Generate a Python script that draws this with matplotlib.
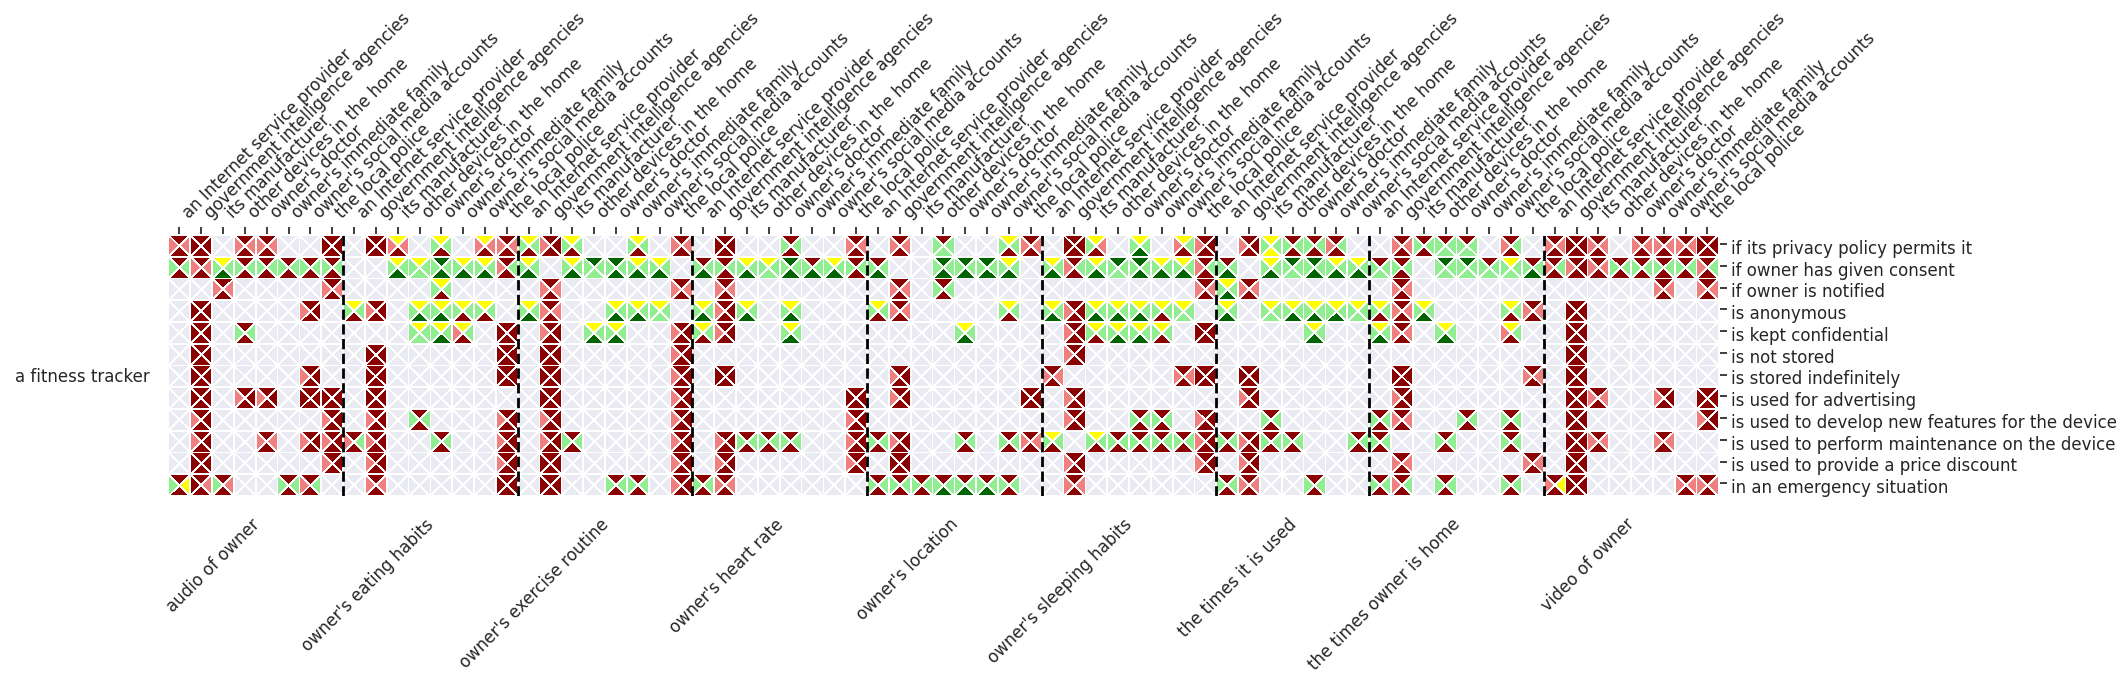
#! /usr/bin/python3

import matplotlib
matplotlib.use("Agg")
import matplotlib.pyplot as plt
from matplotlib.collections import PolyCollection
from matplotlib.transforms import ScaledTranslation

recipients = ["an Internet service provider", "government intelligence agencies",
              "its manufacturer", "other devices in the home", "owner's doctor",
              "owner's immediate family", "owner's social media accounts", "the local police"]
data_types = ["audio of owner", "owner's eating habits", "owner's exercise routine",
              "owner's heart rate", "owner's location", "owner's sleeping habits",
              "the times it is used", "the times owner is home", "video of owner"]
# the survey has no "the local police" column for "the times it is used"
missing = {"the times it is used": ["the local police"]}
conditions = ["if its privacy policy permits it", "if owner has given consent", "if owner is notified",
              "is anonymous", "is kept confidential", "is not stored", "is stored indefinitely",
              "is used for advertising", "is used to develop new features for the device",
              "is used to perform maintenance on the device", "is used to provide a price discount",
              "in an emergency situation"]
device = "a fitness tracker"

# column -> opinion in the top, right, bottom, left triangle of the cell
# D very unacceptable, L unacceptable, G acceptable, F very acceptable, Y neutral
row_policy = {0: "DLDL", 1: "DDDD", 3: "DLDL", 4: "DLDL", 7: "DDDD", 9: "DDDD", 10: "YLDL", 12: "YGDG",
              14: "YLDL", 15: "DLDL", 16: "YGDG", 17: "DDDL", 18: "YGDG", 21: "YGDG", 23: "DLDL", 25: "DDDD",
              28: "DGDG", 31: "DLDL", 33: "DLDL", 35: "DGGG", 38: "YGDG", 39: "DLDL", 41: "DDDD", 42: "YLDG",
              44: "YGFG", 46: "YGDL", 47: "DDDL", 49: "DDDL", 50: "YGYG", 51: "DGDG", 52: "DGDG", 53: "DGDL",
              56: "DLDL", 57: "DGDG", 58: "DGGG", 59: "DGGG", 61: "DGDL", 63: "DLDL", 64: "DDDD", 65: "DLDL",
              67: "DLDL", 68: "DLDL", 69: "DLDL", 70: "DDDD"}
row_consent = {0: "DGDG", 1: "DLDL", 2: "YGFG", 3: "DGDG", 4: "DGDG", 5: "DGDG", 6: "DGDG", 7: "DGDG",
               10: "YGFG", 11: "YGGG", 12: "FGFG", 13: "YGFG", 14: "YGFG", 15: "DGDL", 16: "YGFG", 18: "YGFG",
               19: "FGGG", 20: "FGFG", 21: "YGFG", 22: "YGFG", 24: "DGFG", 25: "DGDG", 26: "YGFG", 27: "YGGG",
               28: "FGFG", 29: "DGFG", 30: "YGFG", 31: "DGDG", 32: "DGFG", 35: "FGFG", 36: "FGFG", 37: "FGFG",
               38: "YGFG", 40: "YGFG", 41: "DGDL", 42: "YGFG", 43: "FGGG", 44: "FGFG", 45: "YGFG", 46: "YGFG",
               47: "DGDL", 48: "DGFG", 50: "YGFG", 51: "FGGG", 52: "FGFG", 53: "YGFG", 54: "YGFG", 55: "DGGG",
               56: "DGDG", 58: "FGGG", 59: "FGGG", 60: "DGGG", 61: "YGGG", 62: "DGFG", 63: "DGDL", 64: "DDDL",
               65: "DLDL", 66: "DGDG", 67: "DGDG", 68: "DGDG", 69: "DGDG", 70: "DGDL"}
row_notified = {2: "DLDL", 7: "DLDL", 12: "YGDG", 17: "DLDL", 23: "DLDL", 25: "DLDL", 33: "DLDL", 35: "DGDG",
                47: "DLDL", 48: "YGFG", 49: "DLDL", 56: "DLDL", 68: "DLDL", 70: "DLDL"}
row_anonymous = {1: "DDDD", 6: "DDDL", 8: "YGDG", 9: "DDDL", 11: "YGFG", 12: "YGFG", 13: "YGDG", 14: "YGDG",
                 16: "YGFG", 17: "DLDL", 20: "YGFG", 21: "YGFG", 22: "YGGG", 24: "YGFG", 25: "DDDL", 26: "YGFG",
                 28: "YGFG", 32: "YGDG", 33: "DLDL", 38: "YGDG", 40: "YGFG", 41: "DDDL", 42: "YGFG", 43: "YGFG",
                 44: "YGFG", 45: "YGDG", 46: "YGGG", 48: "YGFG", 50: "YGGG", 51: "YGFG", 52: "YGFG", 53: "YGFG",
                 54: "YGGG", 55: "YGDG", 56: "DLDL", 57: "YGFG", 61: "YGDG", 62: "DLDL", 64: "DDDD"}
row_confidential = {1: "DDDD", 3: "DGDG", 11: "YGGG", 12: "YGFG", 13: "YGDL", 15: "DDDD", 17: "DDDL", 19: "YGFG",
                    20: "YGFG", 23: "DDDL", 24: "YGDG", 25: "DDDL", 28: "YGFG", 36: "YGFG", 41: "DDDL", 42: "YGDG",
                    43: "YGFG", 44: "YGFG", 45: "YGDG", 47: "DDDD", 52: "YGFG", 55: "YGFG", 56: "DLDL", 58: "YGFG",
                    61: "YGDL", 64: "DDDD"}
row_not_stored = {1: "DDDD", 9: "DDDD", 15: "DDDD", 17: "DDDD", 23: "DDDL", 41: "DDDL", 64: "DDDD"}
row_indefinite = {1: "DDDD", 6: "DDDL", 9: "DDDD", 15: "DDDD", 17: "DDDD", 23: "DDDL", 25: "DDDD", 33: "DDDL",
                  40: "DLDL", 46: "DLDL", 47: "DDDD", 49: "DDDD", 56: "DDDD", 62: "DLDL", 64: "DDDD"}
row_advertising = {1: "DDDD", 3: "DDDL", 4: "DDDL", 6: "DDDD", 7: "DDDD", 9: "DDDD", 17: "DDDD", 23: "DDDL",
                   31: "DDDD", 33: "DDDL", 39: "DDDD", 41: "DDDL", 49: "DDDL", 56: "DDDL", 64: "DDDD", 65: "DLDL",
                   68: "DDDL", 70: "DDDD"}
row_features = {1: "DDDL", 7: "DDDL", 9: "DDDL", 11: "DGDG", 15: "DDDL", 17: "DDDL", 23: "DDDL", 31: "DDDL",
                41: "DDDL", 44: "DGDG", 45: "DGDG", 47: "DDDL", 50: "DGDG", 55: "DGDG", 56: "DLDL", 59: "DGDG",
                61: "DGDG", 64: "DDDD", 70: "DDDL"}
row_maintenance = {1: "DDDL", 4: "DLDL", 6: "DDDL", 7: "DDDL", 8: "DGDL", 9: "DDDL", 12: "DGDG", 15: "DDDL",
                   17: "DDDL", 18: "DGDG", 23: "DDDL", 25: "DDDL", 26: "DGDG", 27: "DGDG", 28: "DGDG", 31: "DDDL",
                   32: "DGDG", 33: "DDDL", 36: "DGDG", 38: "DGDG", 39: "DLDL", 40: "YGDG", 42: "YGDG", 43: "DGDG",
                   44: "DGDG", 45: "DGDG", 46: "DGDG", 47: "DDDL", 48: "DGDG", 49: "DDDL", 50: "DGDG", 51: "DGDG",
                   54: "DGDG", 55: "DGDG", 58: "DGDG", 61: "DGDG", 64: "DDDD", 65: "DLDL", 68: "DLDL"}
row_discount = {1: "DDDD", 7: "DDDL", 9: "DDDL", 15: "DDDL", 17: "DDDD", 23: "DDDL", 25: "DDDL", 31: "DDDL",
                33: "DDDD", 41: "DDDL", 47: "DDDL", 49: "DDDL", 56: "DLDL", 62: "DLDL", 64: "DDDD"}
row_emergency = {0: "DYDG", 1: "DLDD", 2: "DLDG", 5: "DGDG", 6: "DGDL", 9: "DLDL", 15: "DDDD", 17: "DDDD",
                 20: "DGDG", 21: "DGDG", 23: "DDDL", 24: "DGDG", 25: "DLDL", 32: "DGDG", 33: "DGDG", 34: "DGDG",
                 35: "DGFG", 36: "DGFG", 37: "DGFG", 38: "DGDG", 41: "DLDL", 48: "DGDG", 49: "DLDL", 52: "DGDG",
                 55: "DGDG", 56: "DGDL", 58: "DGDG", 61: "DGDG", 63: "DYDL", 64: "DDDD", 69: "DLDL", 70: "DLDL"}
rows = [row_policy, row_consent, row_notified, row_anonymous, row_confidential, row_not_stored,
        row_indefinite, row_advertising, row_features, row_maintenance, row_discount, row_emergency]

colors = {"D": "darkred", "L": "lightcoral", "G": "lightgreen", "F": "darkgreen", "Y": "yellow", ".": "#EAEAF2"}
text_color = ".15"
font_size = 12

# x labels and the positions of the group separators
column_labels = []
group_edges = [0]
for name in data_types:
    kept = [r for r in recipients if r not in missing.get(name, [])]
    column_labels += kept
    group_edges.append(len(column_labels))
n_cols = len(column_labels)
n_rows = len(conditions)
group_centers = [(a + b) / 2 for a, b in zip(group_edges[:-1], group_edges[1:])]

fig = plt.figure(figsize=(21.27, 6.86), dpi=100)
ax = fig.add_axes([168.5 / 2127, 1 - 496 / 686, (1719.5 - 168.5) / 2127, (496 - 233.5) / 686])

triangles = []
face_colors = []
for r, row in enumerate(rows):
    for c in range(n_cols):
        cell = row.get(c, "....")
        mid = (c + 0.5, r + 0.5)
        corners = [((c, r), (c + 1, r)), ((c + 1, r), (c + 1, r + 1)),
                   ((c + 1, r + 1), (c, r + 1)), ((c, r + 1), (c, r))]
        for code, (p, q) in zip(cell, corners):
            triangles.append([p, q, mid])
            face_colors.append(colors[code])

ax.add_collection(PolyCollection(triangles, facecolors=face_colors, edgecolors="white",
                                 linewidths=0.5, antialiaseds=False))

for edge in group_edges[1:-1]:
    ax.axvline(edge, color="black", linestyle="dashed", linewidth=2)

ax.set_xlim(0, n_cols + 0.05)
ax.set_ylim(n_rows, -0.07)
for spine in ax.spines.values():
    spine.set_visible(False)

ax.xaxis.tick_top()
ax.set_xticks([c + 0.5 for c in range(n_cols)])
ax.set_xticklabels(column_labels, rotation=45, ha="left", fontsize=font_size, color=text_color)
ax.yaxis.tick_right()
ax.set_yticks([r + 0.42 for r in range(n_rows)])
ax.set_yticklabels(conditions, fontsize=font_size, color=text_color)
ax.tick_params(axis="both", length=5, width=1.25, color=text_color)
# the row labels sit a little under their ticks
shift_down = ScaledTranslation(0, -2 / 72, fig.dpi_scale_trans)
for label in ax.get_yticklabels():
    label.set_transform(label.get_transform() + shift_down)

bottom = ax.secondary_xaxis("bottom")
bottom.set_xticks([c + 0.33 for c in group_centers])
bottom.set_xticklabels(data_types, rotation=45, ha="right", fontsize=font_size, color=text_color)
bottom.tick_params(axis="x", length=0, pad=14)
bottom.spines["bottom"].set_visible(False)

ax.text(-0.85, 6.55, device, ha="right", va="center", fontsize=font_size, color=text_color)

plt.savefig("out.png", dpi=100)
plt.clf()
